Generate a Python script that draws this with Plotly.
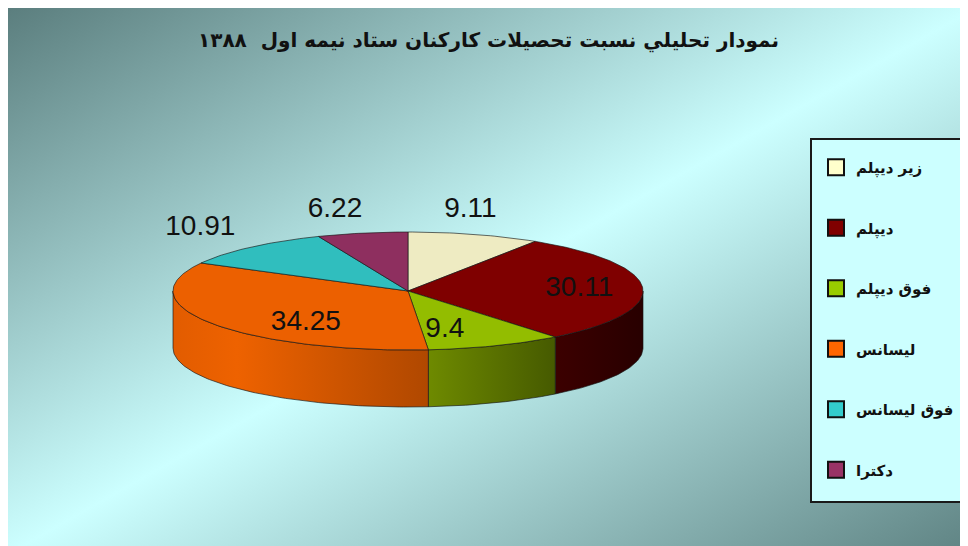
import math
import base64
import plotly.graph_objects as go

# ---------------- data ----------------
categories = ["زیر دیپلم", "دیپلم", "فوق دیپلم", "لیسانس", "فوق لیسانس", "دکترا"]
values = [9.11, 30.11, 9.4, 34.25, 10.91, 6.22]
value_labels = ["9.11", "30.11", "9.4", "34.25", "10.91", "6.22"]
title_text = "نمودار تحليلي نسبت تحصيلات كاركنان ستاد نيمه اول  ۱۳۸۸"

# ---------------- style ----------------
top_colors = ["#EEEBC2", "#7F0000", "#93BD00", "#EC6000", "#30BEBE", "#8E2F5F"]
legend_colors = ["#FFFFCC", "#800000", "#99CC00", "#FF6600", "#33CCCC", "#993366"]
side_scales = [
    [[0, "#E8E4B0"], [1, "#C8C490"]],
    [[0, "#3C0000"], [1, "#280000"]],
    [[0, "#6E8A00"], [1, "#465A00"]],
    [[0, "#E25C00"], [0.25, "#EE6200"], [1, "#B04800"]],
    [[0, "#20A0A0"], [1, "#188080"]],
    [[0, "#702048"], [1, "#501838"]],
]
label_kx = [0.94, 0.73, 0.42, 0.52, 1.32, 1.6]
label_ky = [1.43, 0.73, 0.71, 0.99, 1.44, 1.40]

W, H = 968, 546
OFF = 8  # page margin: axes are set so data units equal window pixels
cx, cy, rx, ry, depth = 408, 291, 235, 59, 57


def ell(t_deg, dy=0.0):
    t = math.radians(t_deg)
    return cx + rx * math.sin(t), cy - ry * math.cos(t) + dy


def arc(a0, a1, dy=0.0):
    n = max(2, int(abs(a1 - a0)) + 1)
    pts = [ell(a0 + (a1 - a0) * i / (n - 1), dy) for i in range(n)]
    return [p[0] for p in pts], [p[1] for p in pts]


def py(s):  # window pixel y -> paper fraction
    return 1 - (s - OFF) / H


def px(s):
    return (s - OFF) / W


total = sum(values)
bounds = []
acc = 0.0
for v in values:
    a0 = 360.0 * acc / total
    acc += v
    a1 = 360.0 * acc / total
    bounds.append((a0, a1))

fig = go.Figure()

# side walls (front-visible part only)
for i, (a0, a1) in enumerate(bounds):
    lo, hi = max(a0, 90.0), min(a1, 270.0)
    if hi <= lo:
        continue
    xs_t, ys_t = arc(lo, hi)
    xs_b, ys_b = arc(hi, lo, depth)
    fig.add_trace(go.Scatter(
        x=xs_t + xs_b + [xs_t[0]], y=ys_t + ys_b + [ys_t[0]],
        mode="lines", fill="toself",
        fillgradient=dict(type="horizontal", colorscale=side_scales[i]),
        line=dict(color="rgba(20,20,20,0.8)", width=0.8),
        hoverinfo="skip", showlegend=False))

# top faces
for i, (a0, a1) in enumerate(bounds):
    xs, ys = arc(a0, a1)
    fig.add_trace(go.Scatter(
        x=[cx] + xs + [cx], y=[cy] + ys + [cy],
        mode="lines", fill="toself", fillcolor=top_colors[i],
        line=dict(color="rgba(20,20,20,0.8)", width=0.8),
        hoverinfo="skip", showlegend=False))

# value labels
lx, ly = [], []
for i, (a0, a1) in enumerate(bounds):
    m = math.radians((a0 + a1) / 2)
    lx.append(cx + rx * math.sin(m) * label_kx[i])
    ly.append(cy - ry * math.cos(m) * label_ky[i])
fig.add_trace(go.Scatter(
    x=lx, y=ly, mode="text", text=value_labels,
    textfont=dict(family="Liberation Sans, Arial, sans-serif", size=28, color="#111111"),
    hoverinfo="skip", showlegend=False))

# legend entries
for i, c in enumerate(categories):
    fig.add_trace(go.Scatter(
        x=[None], y=[None], mode="markers", name="<b>" + c + "</b>", legendgroup=c,
        marker=dict(symbol="square", size=16, color=legend_colors[i],
                    line=dict(color="#111111", width=2))))

# gradient background via SVG image
svg = ('<svg xmlns="http://www.w3.org/2000/svg" width="968" height="546" '
       'viewBox="0 0 968 546" preserveAspectRatio="none"><defs>'
       '<linearGradient id="g" x1="0" y1="0" x2="1" y2="1">'
       '<stop offset="0" stop-color="#5B7E7E"/>'
       '<stop offset="0.5" stop-color="#CCFFFF"/>'
       '<stop offset="1" stop-color="#5E8282"/>'
       '</linearGradient></defs>'
       '<rect width="968" height="546" fill="url(#g)"/></svg>')
src = "data:image/svg+xml;base64," + base64.b64encode(svg.encode()).decode()

fig.update_layout(
    width=W, height=H,
    margin=dict(l=0, r=0, t=0, b=0),
    paper_bgcolor="white", plot_bgcolor="rgba(0,0,0,0)",
    xaxis=dict(range=[OFF, OFF + W], visible=False, fixedrange=True),
    yaxis=dict(range=[OFF + H, OFF], visible=False, fixedrange=True),
    images=[dict(source=src, xref="paper", yref="paper", x=0, y=1,
                 sizex=1, sizey=1, xanchor="left", yanchor="top",
                 sizing="stretch", layer="below")],
    shapes=[
        dict(type="rect", xref="x", yref="y", x0=811, x1=962, y0=139, y1=502,
             fillcolor="#CCFFFF", line=dict(color="#1A1A1A", width=2), layer="below"),
    ],
    annotations=[dict(text="<b>" + title_text + "</b>", xref="x", yref="y",
                      x=488, y=40, showarrow=False,
                      font=dict(family="DejaVu Sans", size=20, color="#111111"))],
    legend=dict(x=px(816), y=py(151), xanchor="left", yanchor="top",
                bgcolor="rgba(0,0,0,0)", borderwidth=0, tracegroupgap=38,
                font=dict(family="DejaVu Sans", size=15, color="#111111"),
                itemclick=False, itemdoubleclick=False),
    showlegend=True,
)

fig.write_html("out.html")
